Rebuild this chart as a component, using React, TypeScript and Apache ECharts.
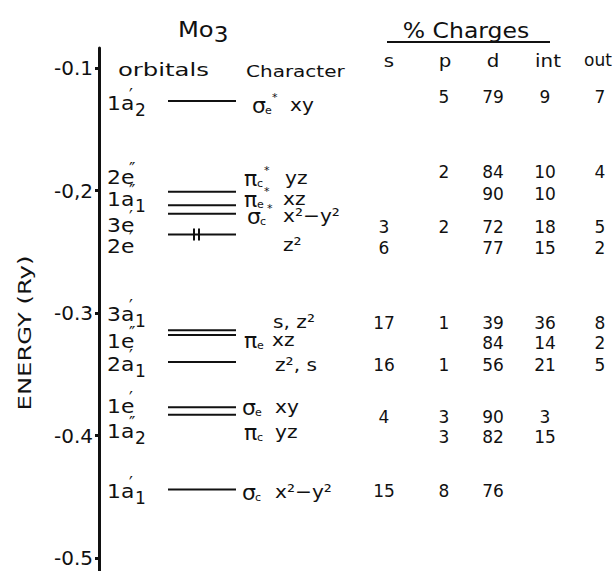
import React, { useEffect, useRef } from "react";
import * as echarts from "echarts";

// ---- data ----
const orbitalBase = ["1a", "2e", "1a", "3e", "2e", "3a", "1e", "2a", "1e", "1a", "1a"];
const orbitalPrime = ["′", "″", "″", "′", "′", "′", "″", "′", "′", "″", "′"];
const orbitalSub = ["2", "", "1", "", "", "1", "", "1", "", "2", "1"];
const energies = [-0.127, -0.201, -0.212, -0.219, -0.236, -0.314, -0.318, -0.34, -0.377, -0.383, -0.444];
const occupiedMark = [false, false, false, false, true, false, false, false, false, false, false];

const charGreek = ["σ", "π", "π", "σ", "", "", "π", "", "σ", "π", "σ"];
const charSub = ["e", "c", "e", "c", "", "", "e", "", "e", "c", "c"];
const charStar = [true, true, true, true, false, false, false, false, false, false, false];
const charOrb = ["xy", "yz", "xz", "x²−y²", "z²", "s, z²", "xz", "z², s", "xy", "yz", "x²−y²"];

const chargeColumns = ["s", "p", "d", "int", "out"];
const chargeS = [null, null, null, 3, 6, 17, null, 16, 4, null, 15];
const chargeP = [5, 2, null, 2, null, 1, null, 1, 3, 3, 8];
const chargeD = [79, 84, 90, 72, 77, 39, 84, 56, 90, 82, 76];
const chargeInt = [9, 10, 10, 18, 15, 36, 14, 21, 3, 15, null];
const chargeOut = [7, 4, null, 5, 2, 8, 2, 5, null, null, null];

const yTicks = [-0.5, -0.4, -0.3, -0.2, -0.1];
const yTickText = ["-0.5", "-0.4", "-0.3", "-0,2", "-0.1"];

// ---- layout ----
const FONT = "DejaVu Sans";
const INK = "#111";
const orbLabelY = [104, 178, 200, 226, 247, 315, 342, 365, 407, 432, 492];
const charY = [105, 178, 199, 216, 245, 322, 340, 365, 407, 432, 492];
const charGreekX = [252, 244, 244, 247, 0, 0, 244, 0, 242, 244, 242];
const charRestX = [290, 285, 283, 283, 283, 273, 272, 275, 275, 275, 275];
const rowY = [97, 172, 194, 227, 248, 323, 343, 365, 417, 437, 491];
const colX = [384, 444, 493, 545, 600];
const headerX = [389, 445, 493, 548, 584];
const headerAlign = ["center", "center", "center", "center", "left"];
const LEVEL_X0 = 168;
const LEVEL_X1 = 236;

function txt(x: number, y: number, text: string, size: number, opts: any = {}) {
  const style: any = {
    text,
    x: 0,
    y: 0,
    fontSize: size,
    fontFamily: FONT,
    fill: INK,
    textAlign: opts.align ?? "left",
    textVerticalAlign: "middle",
    verticalAlign: "middle",
  };
  if (opts.rich) style.rich = opts.rich;
  if (opts.lh) style.lineHeight = opts.lh;
  return {
    type: "text",
    x,
    y,
    scaleX: opts.sx ?? 1,
    rotation: opts.rot ?? 0,
    silent: true,
    style,
  };
}

export default function App() {
  const ref = useRef<HTMLDivElement>(null);
  useEffect(() => {
    const chart = echarts.init(ref.current!, null, { renderer: "svg" });

    const graphics: any[] = [];
    // headers
    graphics.push(
      txt(178, 29, "{m|Mo}{s|3}", 22, {
        sx: 1.1,
        rich: {
          m: { fontSize: 22, fontFamily: FONT, fill: INK },
          s: { fontSize: 21, fontFamily: FONT, fill: INK, padding: [12, 0, 0, 0] },
        },
      })
    );
    graphics.push(txt(466, 30, "% Charges", 21, { sx: 1.12, align: "center" }));
    graphics.push({
      type: "line",
      silent: true,
      shape: { x1: 387, y1: 42, x2: 550, y2: 42 },
      style: { stroke: INK, lineWidth: 2 },
    });
    chargeColumns.forEach((c, i) =>
      graphics.push(txt(headerX[i], 60, c, i === 4 ? 17 : 18, { align: headerAlign[i], sx: i === 4 ? 1 : 1.1 }))
    );
    graphics.push(txt(118, 70, "orbitals", 18, { sx: 1.35 }));
    graphics.push(txt(246, 71, "Character", 16, { sx: 1.25 }));
    graphics.push(txt(25, 333, "ENERGY (Ry)", 18, { sx: 1.35, rot: Math.PI / 2, align: "center" }));

    // orbital labels
    orbitalBase.forEach((b, i) => {
      const x = 107;
      const y = orbLabelY[i];
      graphics.push(txt(x, y, b, 19, { sx: 1.15, lh: 16 }));
      graphics.push(txt(x + 22, y - 9, orbitalPrime[i], 17, { lh: 8 }));
      if (orbitalSub[i]) graphics.push(txt(x + 28, y + 6, orbitalSub[i], 17, { lh: 13 }));
    });

    // character labels
    charOrb.forEach((o, i) => {
      const y = charY[i];
      if (charGreek[i]) {
        const gx = charGreekX[i];
        graphics.push(txt(gx, y, charGreek[i], 22, { lh: 14 }));
        graphics.push(txt(gx + 13, y + 5, charSub[i], 11, { lh: 8 }));
        if (charStar[i]) graphics.push(txt(gx + 20, y - 8, "*", 11, { lh: 7 }));
      }
      graphics.push(txt(charRestX[i], y, o, 18, { sx: 1.12, lh: 15 }));
    });

    // charge table
    const cols = [chargeS, chargeP, chargeD, chargeInt, chargeOut];
    cols.forEach((col, ci) => {
      col.forEach((v, ri) => {
        if (v === null) return;
        graphics.push(txt(colX[ci], rowY[ri], String(v), 17, { align: "center" }));
      });
    });

    chart.setOption({
      animation: false,
      backgroundColor: "#fff",
      textStyle: { fontFamily: FONT },
      grid: [
        { left: 99, top: 48, bottom: 0, width: 2, containLabel: false },
        { left: 99, top: 68, bottom: 13, right: 0, containLabel: false },
      ],
      xAxis: [
        { gridIndex: 0, type: "value", show: false, min: 0, max: 1 },
        { gridIndex: 1, type: "value", show: false, min: 99, max: 613 },
      ],
      yAxis: [
        {
          gridIndex: 0,
          type: "value",
          min: -0.5106,
          max: -0.0837,
          axisLine: { show: true, lineStyle: { color: INK, width: 3 } },
          axisTick: { show: false },
          axisLabel: { show: false },
          splitLine: { show: false },
        },
        {
          gridIndex: 1,
          type: "value",
          min: -0.5,
          max: -0.1,
          interval: 0.1,
          axisLine: { show: false },
          axisTick: { show: true, inside: false, length: 4, lineStyle: { color: INK, width: 3 } },
          axisLabel: {
            show: true,
            margin: 6,
            fontSize: 20,
            fontFamily: FONT,
            color: INK,
            formatter: (v: number) => {
              const k = yTicks.findIndex((t) => Math.abs(t - v) < 1e-6);
              return k >= 0 ? yTickText[k] : "";
            },
          },
          splitLine: { show: false },
        },
      ],
      series: [
        {
          type: "custom",
          xAxisIndex: 1,
          yAxisIndex: 1,
          silent: true,
          data: energies.map((e) => [LEVEL_X0, e]),
          renderItem: (params: any, api: any) => {
            const e = api.value(1);
            const p1 = api.coord([LEVEL_X0, e]);
            const p2 = api.coord([LEVEL_X1, e]);
            const children: any[] = [
              {
                type: "line",
                shape: { x1: p1[0], y1: p1[1], x2: p2[0], y2: p2[1] },
                style: { stroke: INK, lineWidth: 2 },
              },
            ];
            if (occupiedMark[params.dataIndex]) {
              [194, 199].forEach((mx) => {
                const m = api.coord([mx, e]);
                children.push({
                  type: "line",
                  shape: { x1: m[0], y1: m[1] - 6, x2: m[0], y2: m[1] + 6 },
                  style: { stroke: INK, lineWidth: 2 },
                });
              });
            }
            return { type: "group", children };
          },
        },
      ],
      graphic: { elements: graphics },
    });
    return () => chart.dispose();
  }, []);
  return <div ref={ref} style={{ position: "fixed", left: 0, top: 0, width: 613, height: 571 }} />;
}
